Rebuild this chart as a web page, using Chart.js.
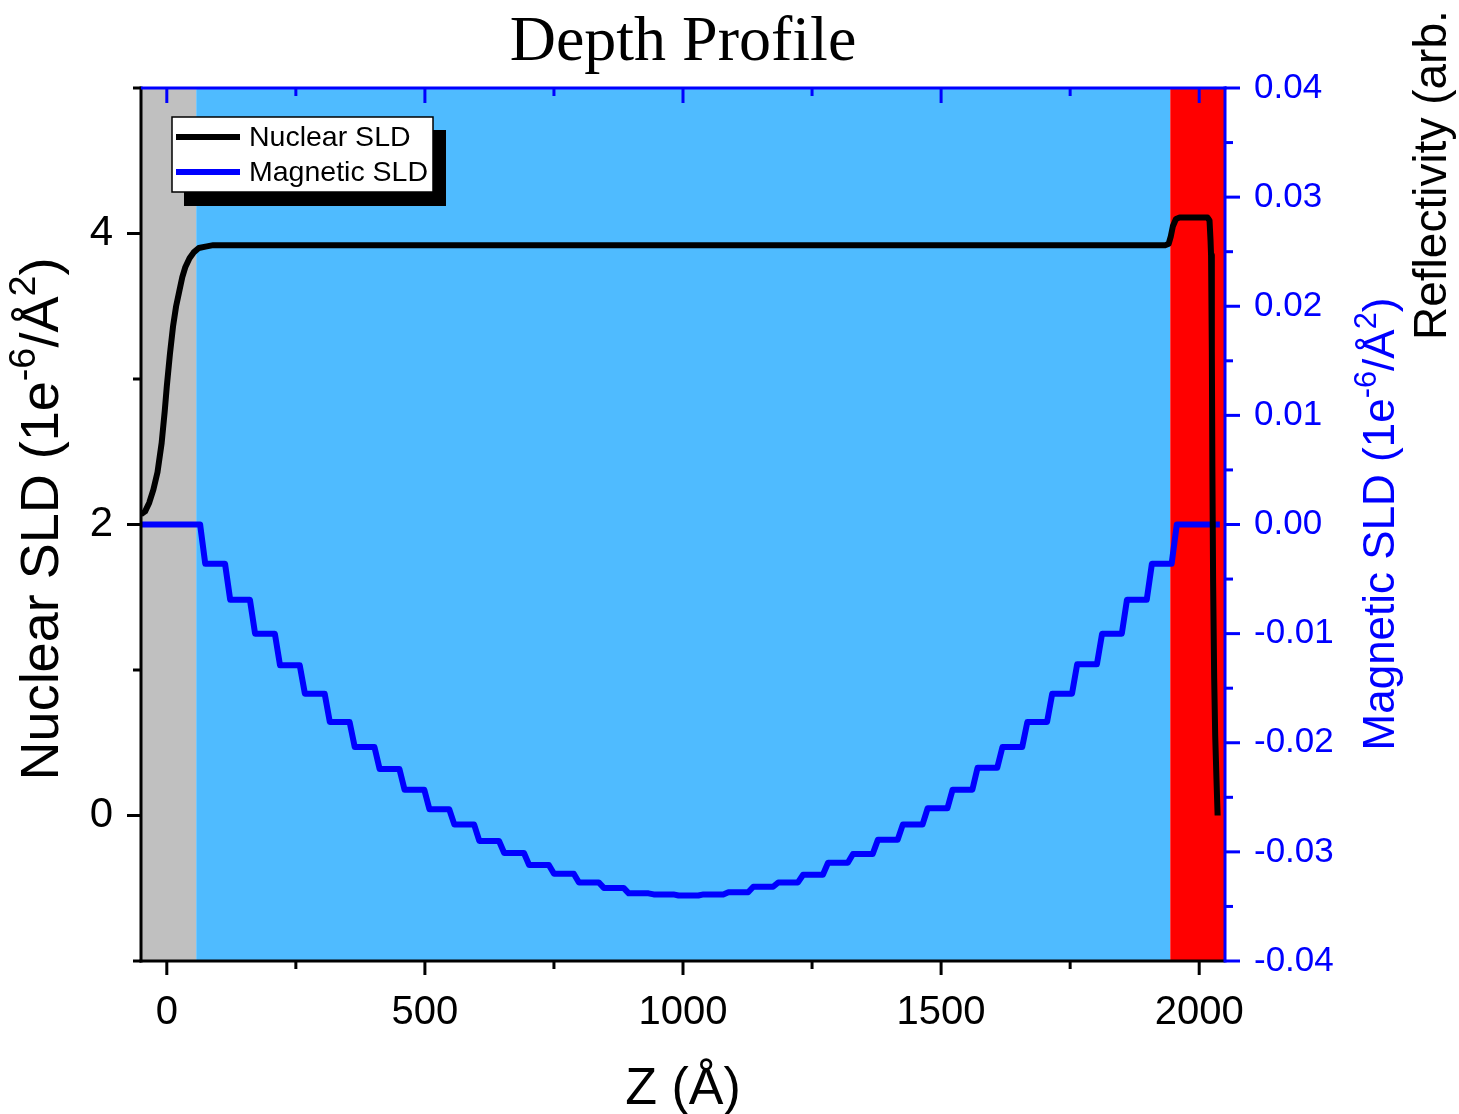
<!DOCTYPE html>
<html>
<head>
<meta charset="utf-8">
<script src="https://cdn.jsdelivr.net/npm/chart.js@4.4.1/dist/chart.umd.min.js"></script>
<style>
  body { margin: 0; background: #fff; }
  canvas { display: block; }
</style>
</head>
<body>
<canvas id="depth-profile" width="1459" height="1114"></canvas>
<script>
// nuclear SLD profile (z in Å, SLD in 1e-6/Å^2)
const nuclearZ = [-50, -42, -34, -26, -18, -10, -4, 0, 6, 12, 18, 24, 30, 36, 44, 52, 62, 75, 90,
    1935, 1941, 1945, 1949, 1955, 1962, 2016, 2020, 2022, 2023, 2024.5, 2025.5, 2027, 2029, 2031, 2033.5, 2035.7];
const nuclearSLD = [2.07, 2.09, 2.15, 2.24, 2.36, 2.56, 2.78, 2.95, 3.17, 3.36, 3.50, 3.60, 3.70, 3.77, 3.83, 3.87, 3.90, 3.91, 3.92,
    3.92, 3.93, 3.98, 4.05, 4.10, 4.11, 4.11, 4.09, 3.95, 3.85, 3.2, 2.4, 1.6, 0.95, 0.55, 0.25, 0.0];

// magnetic layers: edges in Å and the level of each layer
const magEdges = [69.5, 117.8, 166.0, 214.3, 262.5, 310.8, 359.1, 407.3, 455.6, 503.8,
    552.1, 600.4, 648.6, 696.9, 745.1, 793.4, 841.7, 889.9, 938.2, 986.4,
    1034.7, 1083.0, 1131.2, 1179.5, 1227.7, 1276.0, 1324.3, 1372.5, 1420.8, 1469.0,
    1517.3, 1565.6, 1613.8, 1662.1, 1710.3, 1758.6, 1806.9, 1855.1, 1903.4, 1951.6];
const magLevels = [-0.0036, -0.0069, -0.0100, -0.0129, -0.0155, -0.0181, -0.0204, -0.0224, -0.0243, -0.0261,
    -0.0275, -0.0290, -0.0301, -0.0312, -0.0320, -0.0328, -0.0333, -0.0338, -0.0339, -0.0340,
    -0.0339, -0.0337, -0.0332, -0.0328, -0.0321, -0.0310, -0.0302, -0.0289, -0.0275, -0.0260,
    -0.0243, -0.0223, -0.0204, -0.0181, -0.0155, -0.0128, -0.0100, -0.0069, -0.0036];
const magStart = -50;
const magEnd = 2040;
const magRough = 5;

// background regions (substrate / film / capping)
const bandEdges = [-50, 57, 1944, 2050];
const bandColors = ['#C0C0C0', '#4FBBFF', '#FF0000'];

// ticks
const xMajorTicks = [0, 500, 1000, 1500, 2000];
const xMinorTicks = [250, 750, 1250, 1750];
const yMajorTicks = [0, 2, 4];
const yMinorTicks = [-1, 1, 3, 5];
const y2MajorTicks = [-0.04, -0.03, -0.02, -0.01, 0, 0.01, 0.02, 0.03, 0.04];
const y2MinorTicks = [-0.035, -0.025, -0.015, -0.005, 0.005, 0.015, 0.025, 0.035];

const SANS = "'Liberation Sans', Arial, sans-serif";
const SERIF = "'Liberation Serif', 'Times New Roman', serif";
const BLUE = '#0000FF';

const nuclearPoints = nuclearZ.map((z, i) => ({x: z, y: nuclearSLD[i]}));

const magFull = [0, ...magLevels, 0];
const magPoints = [{x: magStart, y: 0}];
magEdges.forEach((edge, i) => {
    magPoints.push({x: edge - magRough, y: magFull[i]});
    magPoints.push({x: edge + magRough, y: magFull[i + 1]});
});
magPoints.push({x: magEnd, y: 0});

function richText(ctx, parts, size) {
    // measure and draw a run of text with superscripts, centred on 0
    const widths = parts.map(p => {
        ctx.font = `${p.sup ? size * 0.7 : size}px ${SANS}`;
        return ctx.measureText(p.t).width;
    });
    const total = widths.reduce((a, b) => a + b, 0);
    let cx = -total / 2;
    parts.forEach((p, i) => {
        ctx.font = `${p.sup ? size * 0.7 : size}px ${SANS}`;
        ctx.fillText(p.t, cx, p.sup ? -size * 0.42 : 0);
        cx += widths[i];
    });
}

const bandsPlugin = {
    id: 'bands',
    beforeDatasetsDraw(chart) {
        const {ctx, chartArea: a, scales: {x}} = chart;
        ctx.save();
        for (let i = 0; i < bandColors.length; i++) {
            const x0 = x.getPixelForValue(bandEdges[i]);
            const x1 = x.getPixelForValue(bandEdges[i + 1]);
            ctx.fillStyle = bandColors[i];
            ctx.fillRect(x0, a.top, x1 - x0, a.bottom - a.top);
        }
        ctx.restore();
    }
};

const framePlugin = {
    id: 'frame',
    afterDraw(chart) {
        const {ctx, chartArea: a, scales: {x, y, y2}} = chart;
        ctx.save();
        ctx.lineWidth = 3;
        ctx.lineCap = 'butt';

        // ticks
        const tick = (color, x0, y0, x1, y1) => {
            ctx.strokeStyle = color;
            ctx.beginPath();
            ctx.moveTo(x0, y0);
            ctx.lineTo(x1, y1);
            ctx.stroke();
        };
        xMajorTicks.forEach(v => {
            const px = x.getPixelForValue(v);
            tick('#000', px, a.bottom, px, a.bottom + 14);
            tick(BLUE, px, a.top, px, a.top + 15);
        });
        xMinorTicks.forEach(v => {
            const px = x.getPixelForValue(v);
            tick('#000', px, a.bottom, px, a.bottom + 8);
            tick(BLUE, px, a.top, px, a.top + 8);
        });
        yMajorTicks.forEach(v => {
            const py = y.getPixelForValue(v);
            tick('#000', a.left, py, a.left - 14, py);
        });
        yMinorTicks.forEach(v => {
            const py = y.getPixelForValue(v);
            tick('#000', a.left, py, a.left - 8, py);
        });
        y2MajorTicks.forEach(v => {
            const py = y2.getPixelForValue(v);
            tick(BLUE, a.right, py, a.right + 15, py);
        });
        y2MinorTicks.forEach(v => {
            const py = y2.getPixelForValue(v);
            tick(BLUE, a.right, py, a.right + 8, py);
        });

        // axis lines
        tick('#000', a.left, a.top - 1.5, a.left, a.bottom + 1.5);
        tick('#000', a.left - 1.5, a.bottom, a.right, a.bottom);
        tick(BLUE, a.left, a.top, a.right + 1.5, a.top);
        tick(BLUE, a.right, a.top - 1.5, a.right, a.bottom + 1.5);

        // title
        ctx.fillStyle = '#000';
        ctx.textAlign = 'center';
        ctx.textBaseline = 'alphabetic';
        ctx.font = `64px ${SERIF}`;
        ctx.fillText('Depth Profile', (a.left + a.right) / 2, 60);

        // x title
        ctx.font = `52px ${SANS}`;
        ctx.fillText('Z (Å)', (a.left + a.right) / 2, 1104);

        // left title
        ctx.textAlign = 'left';
        ctx.save();
        ctx.translate(58, 519);
        ctx.rotate(-Math.PI / 2);
        richText(ctx, [{t: 'Nuclear SLD (1e'}, {t: '-6', sup: true}, {t: '/Å'}, {t: '2', sup: true}, {t: ')'}], 54);
        ctx.restore();

        // right title
        ctx.save();
        ctx.fillStyle = BLUE;
        ctx.translate(1394, 524);
        ctx.rotate(-Math.PI / 2);
        richText(ctx, [{t: 'Magnetic SLD (1e'}, {t: '-6', sup: true}, {t: '/Å'}, {t: '2', sup: true}, {t: ')'}], 44);
        ctx.restore();

        // reflectivity title, runs off the top of the figure
        ctx.save();
        ctx.fillStyle = '#000';
        ctx.translate(1446, 340);
        ctx.rotate(-Math.PI / 2);
        ctx.font = `46px ${SANS}`;
        ctx.fillText('Reflectivity (arb.', 0, 0);
        ctx.restore();

        // legend with drop shadow
        ctx.fillStyle = '#000';
        ctx.fillRect(184, 130, 262, 76);
        ctx.fillStyle = '#fff';
        ctx.fillRect(172, 117, 261, 75);
        ctx.lineWidth = 1.5;
        ctx.strokeStyle = '#000';
        ctx.strokeRect(172, 117, 261, 75);
        ctx.lineWidth = 6;
        chart.data.datasets.forEach((ds, i) => {
            const ly = 137 + i * 35;
            tick(ds.borderColor, 176, ly, 240, ly);
            ctx.fillStyle = '#000';
            ctx.font = `28.5px ${SANS}`;
            ctx.textBaseline = 'middle';
            ctx.fillText(ds.label, 249, ly + 1);
        });
        ctx.restore();
    }
};

new Chart(document.getElementById('depth-profile'), {
    type: 'line',
    data: {
        datasets: [
            {
                label: 'Nuclear SLD',
                data: nuclearPoints,
                borderColor: '#000000',
                borderWidth: 6,
                pointRadius: 0,
                borderJoinStyle: 'round',
                yAxisID: 'y'
            },
            {
                label: 'Magnetic SLD',
                data: magPoints,
                borderColor: BLUE,
                borderWidth: 6,
                pointRadius: 0,
                borderJoinStyle: 'round',
                yAxisID: 'y2'
            }
        ]
    },
    options: {
        responsive: false,
        animation: false,
        layout: {padding: {top: 88, left: 0, right: 0, bottom: 0}},
        plugins: {
            legend: {display: false},
            tooltip: {enabled: false},
            title: {display: false}
        },
        scales: {
            x: {
                type: 'linear',
                min: -50,
                max: 2050,
                grid: {display: false, drawTicks: false},
                border: {display: false},
                ticks: {font: {family: SANS, size: 40}, color: '#000', padding: 28, maxRotation: 0, autoSkip: false,
                    callback: v => String(v)},
                afterBuildTicks: s => { s.ticks = xMajorTicks.map(v => ({value: v})); },
                afterFit: s => { s.height = 153; }
            },
            y: {
                position: 'left',
                min: -1,
                max: 5,
                grid: {display: false, drawTicks: false},
                border: {display: false},
                ticks: {font: {family: SANS, size: 42}, color: '#000', padding: 28, callback: v => String(v)},
                afterBuildTicks: s => { s.ticks = yMajorTicks.map(v => ({value: v})); },
                afterFit: s => { s.width = 141; }
            },
            y2: {
                position: 'right',
                min: -0.04,
                max: 0.04,
                grid: {display: false, drawTicks: false},
                border: {display: false},
                ticks: {font: {family: SANS, size: 35}, color: BLUE, padding: 29, callback: v => v.toFixed(2)},
                afterBuildTicks: s => { s.ticks = y2MajorTicks.map(v => ({value: v})); },
                afterFit: s => { s.width = 234; }
            }
        }
    },
    plugins: [bandsPlugin, framePlugin]
});
</script>
</body>
</html>
